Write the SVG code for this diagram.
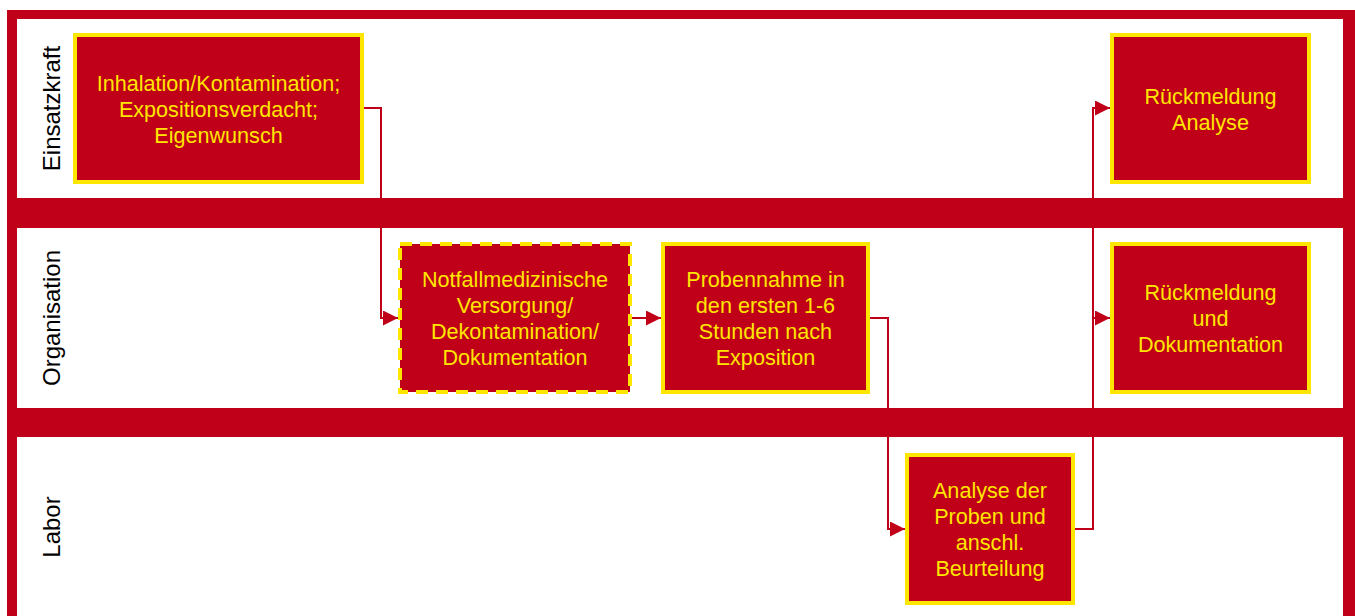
<svg xmlns="http://www.w3.org/2000/svg" width="1355" height="616" viewBox="0 0 1355 616">
<style>
.lane{fill:#ffffff}
.box{fill:#C00018;stroke:#FFE600;stroke-width:4}
.dash{stroke-dasharray:12 8}
.t{font-family:"Liberation Sans",Arial,sans-serif;font-size:21.6px;fill:#FFE600;text-anchor:middle}
.lbl{font-family:"Liberation Sans",Arial,sans-serif;font-size:24px;fill:#000000;text-anchor:middle}
.c{fill:none;stroke:#C00018;stroke-width:2}
</style>
<defs>
<marker id="arr" markerUnits="userSpaceOnUse" markerWidth="16" markerHeight="16" refX="15" refY="7.5" orient="auto">
<path d="M0,0 L15,7.5 L0,15 z" fill="#C00018"/>
</marker>
</defs>
<g id="lanes">
<rect x="7" y="10" width="1348" height="606" fill="#C00018"/>
<rect class="lane" x="17" y="19" width="1326" height="179"/>
<rect class="lane" x="17" y="228" width="1326" height="180"/>
<rect class="lane" x="17" y="437" width="1326" height="179"/>
<text class="lbl" transform="translate(60,108.5) rotate(-90)">Einsatzkraft</text>
<text class="lbl" transform="translate(60,318) rotate(-90)">Organisation</text>
<text class="lbl" transform="translate(60,527) rotate(-90)">Labor</text>
</g>
<g id="connectors">
<polyline class="c" points="364,108 381,108 381,318 398,318" marker-end="url(#arr)"/>
<polyline class="c" points="632,318 661,318" marker-end="url(#arr)"/>
<polyline class="c" points="870,318 888,318 888,529 905,529" marker-end="url(#arr)"/>
<polyline class="c" points="1075,529 1093,529 1093,108 1110,108" marker-end="url(#arr)"/>
<polyline class="c" points="1093,318 1110,318" marker-end="url(#arr)"/>
</g>
<g id="n1">
<rect class="box" x="75" y="35" width="287" height="147"/>
<text class="t" x="218.5" y="90.7">Inhalation/Kontamination;</text>
<text class="t" x="218.5" y="116.7">Expositionsverdacht;</text>
<text class="t" x="218.5" y="142.7">Eigenwunsch</text>
</g>
<g id="n2">
<rect class="box dash" x="400" y="244" width="230" height="148"/>
<text class="t" x="515" y="286.7">Notfallmedizinische</text>
<text class="t" x="515" y="312.7">Versorgung/</text>
<text class="t" x="515" y="338.7">Dekontamination/</text>
<text class="t" x="515" y="364.7">Dokumentation</text>
</g>
<g id="n3">
<rect class="box" x="663" y="244" width="205" height="148"/>
<text class="t" x="765.5" y="286.7">Probennahme in</text>
<text class="t" x="765.5" y="312.7">den ersten 1-6</text>
<text class="t" x="765.5" y="338.7">Stunden nach</text>
<text class="t" x="765.5" y="364.7">Exposition</text>
</g>
<g id="n4">
<rect class="box" x="1112" y="35" width="197" height="147"/>
<text class="t" x="1210.5" y="103.7">Rückmeldung</text>
<text class="t" x="1210.5" y="129.7">Analyse</text>
</g>
<g id="n5">
<rect class="box" x="1112" y="244" width="197" height="148"/>
<text class="t" x="1210.5" y="299.7">Rückmeldung</text>
<text class="t" x="1210.5" y="325.7">und</text>
<text class="t" x="1210.5" y="351.7">Dokumentation</text>
</g>
<g id="n6">
<rect class="box" x="907" y="455" width="166" height="148"/>
<text class="t" x="990" y="497.7">Analyse der</text>
<text class="t" x="990" y="523.7">Proben und</text>
<text class="t" x="990" y="549.7">anschl.</text>
<text class="t" x="990" y="575.7">Beurteilung</text>
</g>
</svg>
